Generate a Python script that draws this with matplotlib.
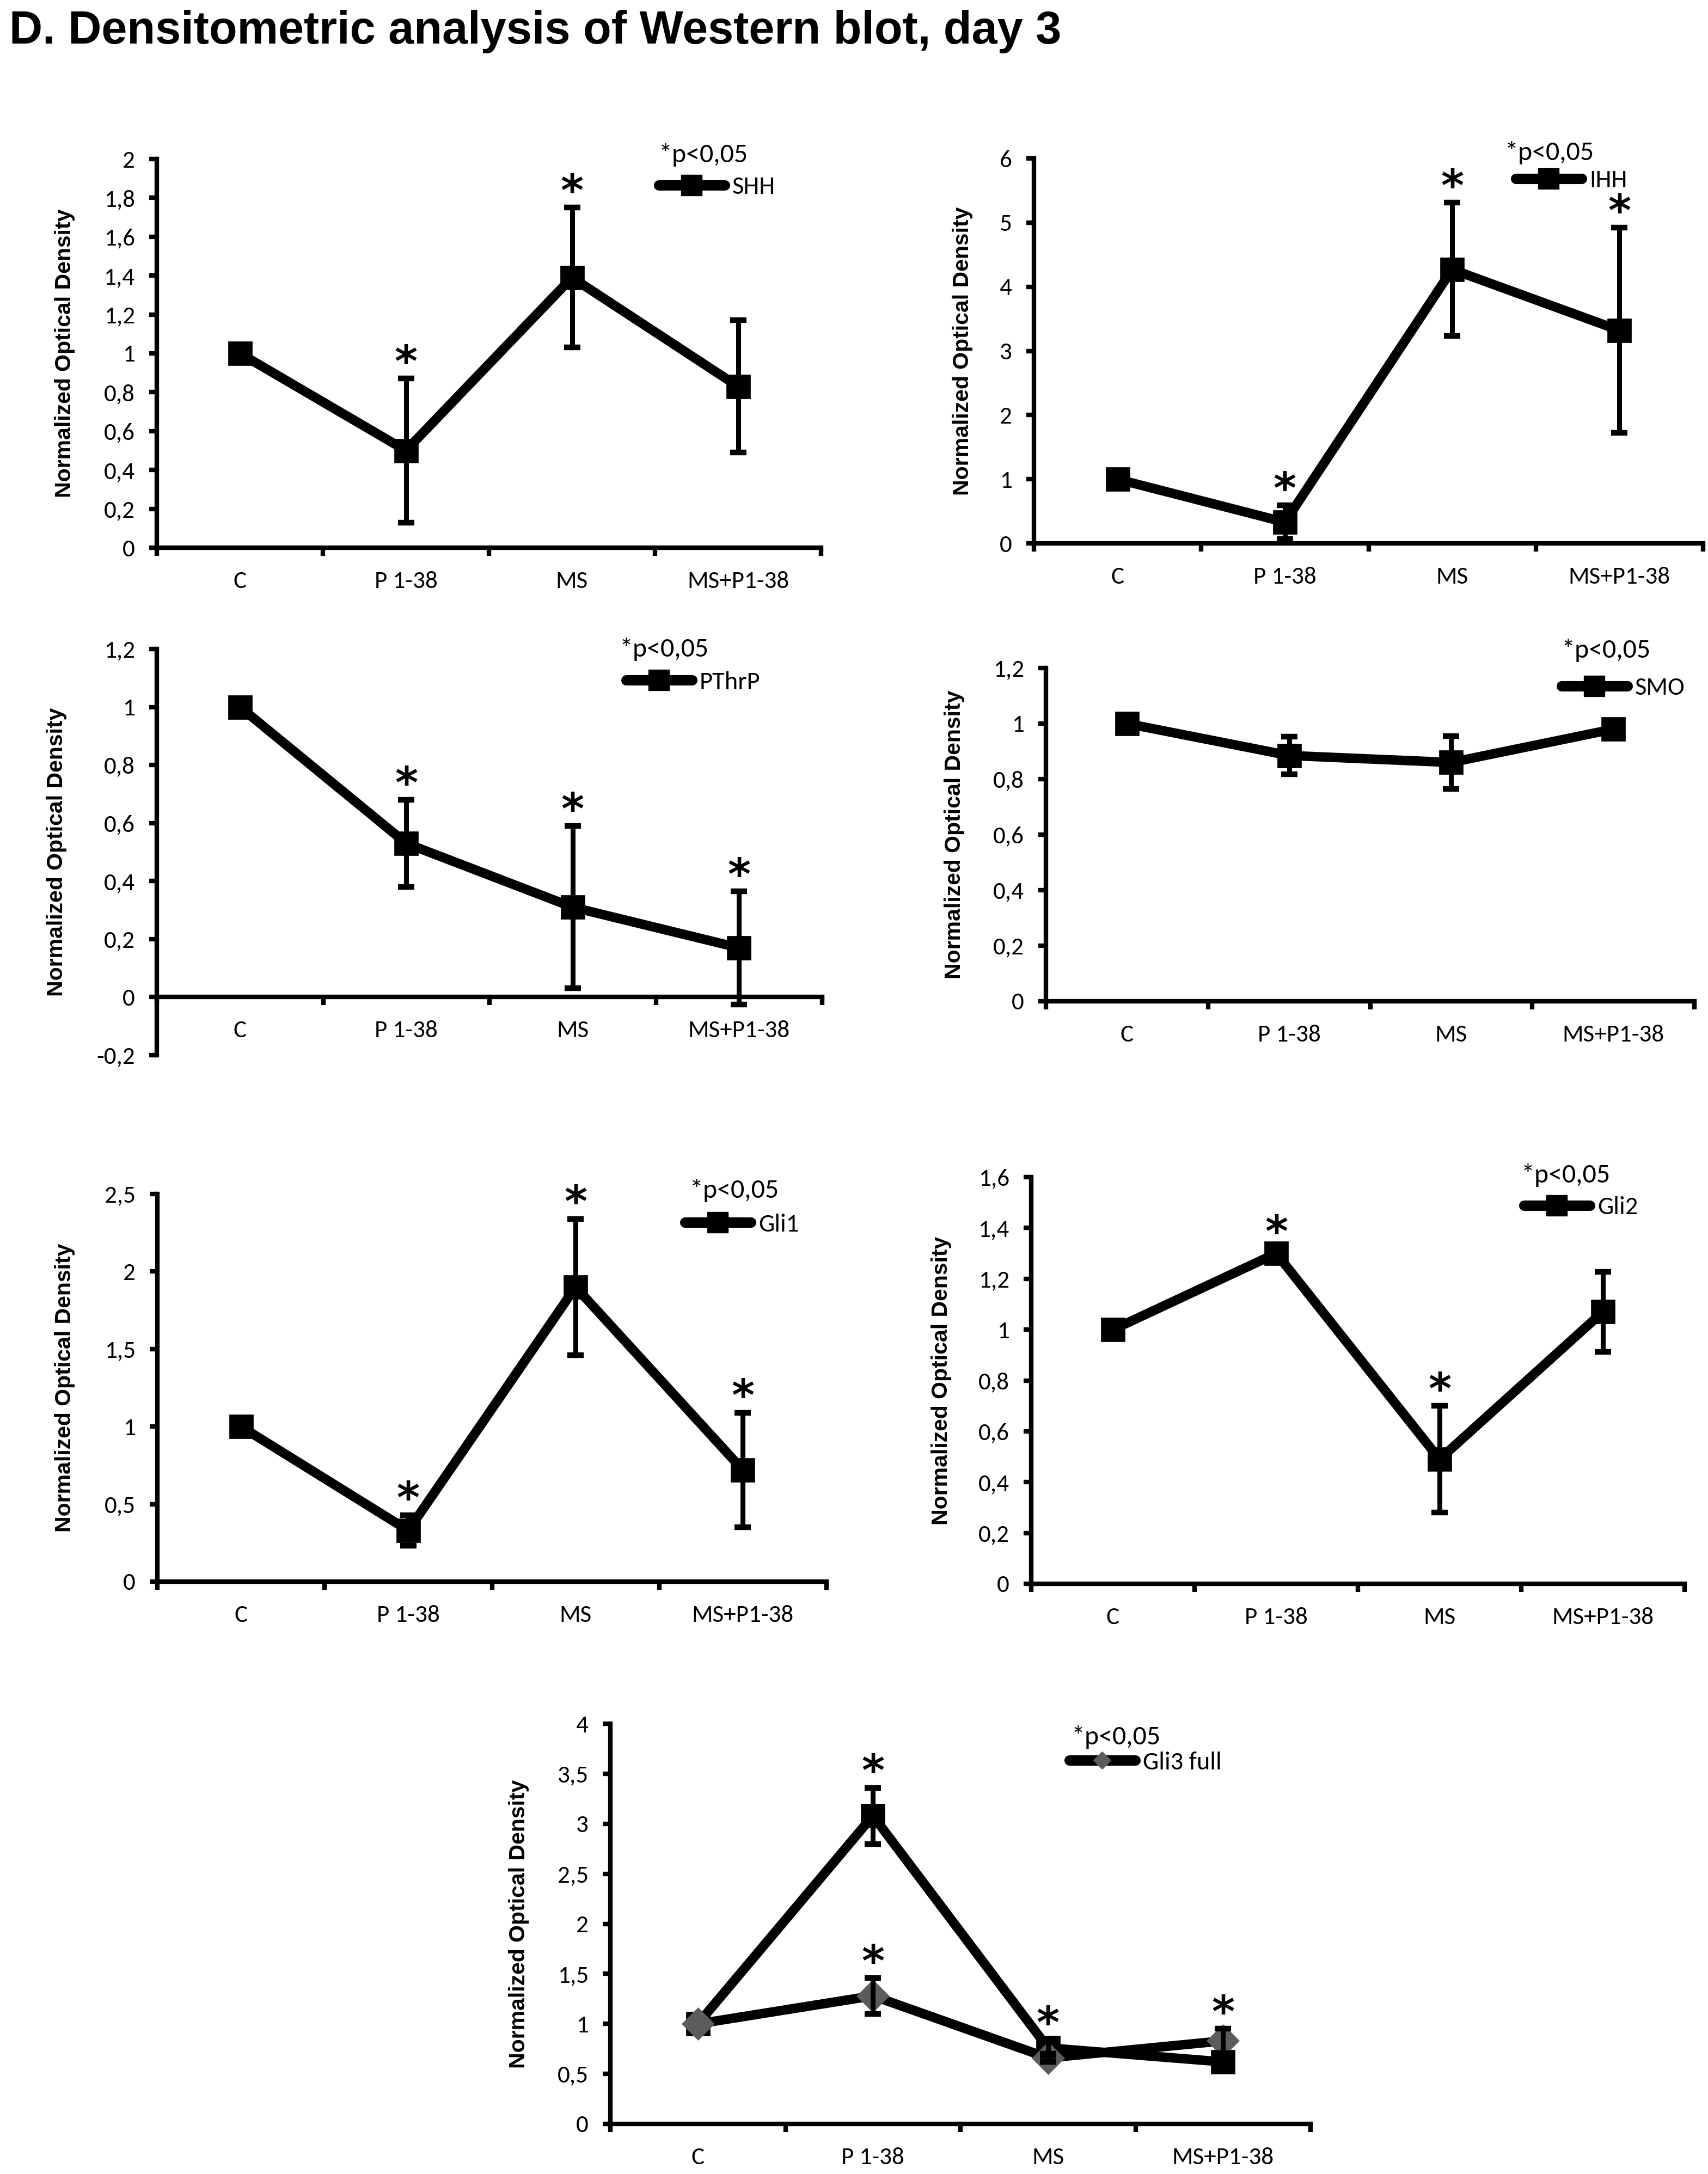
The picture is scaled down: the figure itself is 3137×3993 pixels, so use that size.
import matplotlib
matplotlib.use('Agg')
import matplotlib.pyplot as plt
import matplotlib.font_manager as fm
from matplotlib.lines import Line2D
import numpy as np

# ---------------- data ----------------
categories = ['C', 'P 1-38', 'MS', 'MS+P1-38']

shh_mean = [1.00, 0.50, 1.39, 0.83]
shh_err = [0.00, 0.37, 0.36, 0.34]
shh_sig = [False, True, True, False]

ihh_mean = [1.00, 0.33, 4.27, 3.32]
ihh_err = [0.00, 0.26, 1.04, 1.60]
ihh_sig = [False, True, True, True]

pthrp_mean = [1.00, 0.53, 0.31, 0.17]
pthrp_err = [0.00, 0.15, 0.28, 0.195]
pthrp_sig = [False, True, True, True]

smo_mean = [1.00, 0.885, 0.86, 0.98]
smo_err = [0.00, 0.067, 0.095, 0.00]
smo_sig = [False, False, False, False]

gli1_mean = [1.00, 0.33, 1.90, 0.72]
gli1_err = [0.00, 0.10, 0.44, 0.37]
gli1_sig = [False, True, True, True]

gli2_mean = [1.00, 1.30, 0.49, 1.07]
gli2_err = [0.00, 0.02, 0.21, 0.157]
gli2_sig = [False, True, True, False]

gli3_mean = [1.00, 3.08, 0.76, 0.62]
gli3_err = [0.00, 0.28, 0.08, 0.04]
gli3_sig = [False, True, True, False]

gli3full_mean = [1.00, 1.28, 0.66, 0.83]
gli3full_err = [0.00, 0.18, 0.04, 0.12]
gli3full_sig = [False, True, False, True]

shh_ticks = [0, 0.2, 0.4, 0.6, 0.8, 1, 1.2, 1.4, 1.6, 1.8, 2]
ihh_ticks = [0, 1, 2, 3, 4, 5, 6]
pthrp_ticks = [-0.2, 0, 0.2, 0.4, 0.6, 0.8, 1, 1.2]
smo_ticks = [0, 0.2, 0.4, 0.6, 0.8, 1, 1.2]
gli1_ticks = [0, 0.5, 1, 1.5, 2, 2.5]
gli2_ticks = [0, 0.2, 0.4, 0.6, 0.8, 1, 1.2, 1.4, 1.6]
gli3_ticks = [0, 0.5, 1, 1.5, 2, 2.5, 3, 3.5, 4]

title = 'D. Densitometric analysis of Western blot, day 3'
ylabel = 'Normalized Optical Density'
ptext = '*p<0,05'

# ---------------- style ----------------
names = {f.name for f in fm.fontManager.ttflist}
NARROW = 'Liberation Sans'
for cand in ['Carlito', 'Lato']:
    if cand in names:
        NARROW = cand
        break
SANS = 'Liberation Sans'

W, H = 3137, 3993
DPI = 100
fig = plt.figure(figsize=(W / DPI, H / DPI), dpi=DPI)
fig.patch.set_facecolor('white')

LW = 12.5
MS_ = 31
GRAY = '#5c5c5c'
TICKFS = 32.5


def fmt(v):
    return ('%g' % v).replace('.', ',')


def panel(x0, x1, ytop, ybot, ticks, series, legend_label, lab_x, ptxt_xy, leg_xy,
          zero_spine=False, legend_marker='s', legend_mcolor='black', legend_ms=27):
    ax = fig.add_axes([x0 / W, 1 - ybot / H, (x1 - x0) / W, (ybot - ytop) / H])
    for s in ['top', 'right']:
        ax.spines[s].set_visible(False)
    for s in ['left', 'bottom']:
        ax.spines[s].set_linewidth(6)
        ax.spines[s].set_color('black')
    if zero_spine:
        ax.spines['bottom'].set_position(('data', 0))
    x = np.arange(1, len(categories) + 1)
    for mean, err, sig, marker, mcolor in series:
        ax.plot(x, mean, color='black', lw=LW, marker=marker, ms=MS_,
                mfc=mcolor, mec=mcolor, mew=0.5, zorder=3, solid_joinstyle='miter')
        idx = [i for i in range(len(x)) if err[i] > 0]
        ax.errorbar(x[idx], np.array(mean)[idx], yerr=np.array(err)[idx], fmt='none',
                    ecolor='black', elinewidth=6.5, capsize=10.5, capthick=7.5, zorder=4)
        for i in range(len(x)):
            if sig[i]:
                ax.annotate('*', xy=(x[i], mean[i] + err[i]), xytext=(0, 3),
                            textcoords='offset points', ha='center', va='baseline',
                            fontsize=58, family='DejaVu Sans', fontweight='bold', zorder=5)
    ax.set_xlim(0.5, len(categories) + 0.5)
    ax.set_ylim(ticks[0], ticks[-1])
    ax.set_yticks(ticks)
    ax.set_yticklabels([fmt(t) for t in ticks], family=NARROW, fontsize=TICKFS)
    ax.set_xticks(np.arange(0.5, len(categories) + 1, 1.0))
    ax.set_xticklabels([''] * (len(categories) + 1))
    ax.set_xticks(x, minor=True)
    ax.set_xticklabels(categories, minor=True, family=NARROW, fontsize=TICKFS)
    ax.tick_params(axis='x', which='major', direction='out', length=11, width=6)
    ax.tick_params(axis='x', which='minor', length=0, pad=31)
    ax.tick_params(axis='y', which='major', direction='out', length=10, width=6, pad=19)
    ax.set_ylabel(ylabel, family=SANS, fontweight='bold', fontsize=29.5)
    ax.yaxis.set_label_coords((lab_x - x0) / (x1 - x0), 0.5)
    ax.patch.set_alpha(0)
    # significance note and legend
    fig.text(ptxt_xy[0] / W, 1 - ptxt_xy[1] / H, ptext, family=NARROW, fontsize=36,
             ha='center', va='center')
    h = Line2D([], [], color='black', lw=LW * 1.1, marker=legend_marker, ms=legend_ms,
               mfc=legend_mcolor, mec=legend_mcolor, solid_capstyle='round')
    fig.legend(handles=[h], labels=[legend_label], loc='center left',
               bbox_to_anchor=(leg_xy[0] / W, 1 - leg_xy[1] / H),
               bbox_transform=fig.transFigure, frameon=False, borderpad=0,
               borderaxespad=0, handlelength=2.6, handletextpad=0.3,
               prop={'family': NARROW, 'size': 33.5})
    return ax


panel(288, 1508, 292, 1006, shh_ticks, [(shh_mean, shh_err, shh_sig, 's', 'black')],
      'SHH', 138, (1292, 285), (1210, 344))
panel(1899, 3128, 291, 998, ihh_ticks, [(ihh_mean, ihh_err, ihh_sig, 's', 'black')],
      'IHH', 1787, (2846, 281), (2784, 332))
panel(288, 1510, 1192, 1938, pthrp_ticks, [(pthrp_mean, pthrp_err, pthrp_sig, 's', 'black')],
      'PThrP', 123, (1220, 1192), (1150, 1253), zero_spine=True)
panel(1921, 3112, 1227, 1839, smo_ticks, [(smo_mean, smo_err, smo_sig, 's', 'black')],
      'SMO', 1772, (2950, 1195), (2868, 1264))
panel(289, 1518, 2193, 2905, gli1_ticks, [(gli1_mean, gli1_err, gli1_sig, 's', 'black')],
      'Gli1', 138, (1349, 2186), (1258, 2249))
panel(1894, 3094, 2162, 2909, gli2_ticks, [(gli2_mean, gli2_err, gli2_sig, 's', 'black')],
      'Gli2', 1748, (2876, 2158), (2799, 2218))
panel(1121, 2407, 3166, 3901, gli3_ticks,
      [(gli3_mean, gli3_err, gli3_sig, 's', 'black'),
       (gli3full_mean, gli3full_err, gli3full_sig, 'D', GRAY)],
      'Gli3 full', 972, (2050, 3190), (1964, 3237), legend_marker='D',
      legend_mcolor=GRAY, legend_ms=16)

fig.text(17 / W, 1 - 58 / H, title, family=SANS, fontweight='bold', fontsize=61,
         ha='left', va='center')

fig.savefig('out.png', dpi=DPI, facecolor='white')
